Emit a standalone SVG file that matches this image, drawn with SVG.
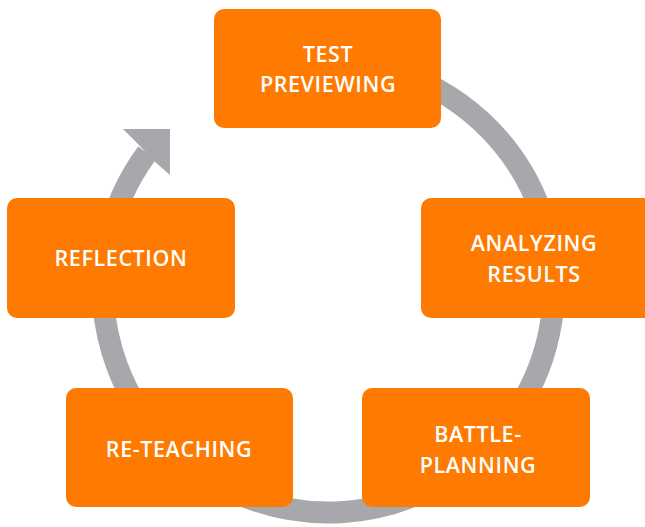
<svg xmlns="http://www.w3.org/2000/svg" width="645" height="527" viewBox="0 0 645 527">
  <style>
    .box { fill: #FF7A00; }
    .lbl { fill: #FFFFFF; font-family: "Open Sans", "Noto Sans", "Liberation Sans", sans-serif; font-size: 21.5px; font-weight: 600; letter-spacing: 0.6px; text-anchor: middle; }
    .ring { fill: none; stroke: #A7A8AB; stroke-width: 22; }
    .head { fill: #A7A8AB; }
  </style>
  <rect width="645" height="527" fill="#FFFFFF"/>
  <g id="connectors">
    <path class="ring" d="M 289 65 A 225.5 225.5 0 1 1 147 153"/>
    <polygon class="head" points="123,129 170,129 170,175 154,161 137,143"/>
  </g>
  <g id="node-test-previewing">
    <rect class="box" x="214" y="9" width="227" height="119" rx="10"/>
    <text class="lbl" x="328" y="62">TEST</text>
    <text class="lbl" x="328" y="92">PREVIEWING</text>
  </g>
  <g id="node-analyzing-results">
    <rect class="box" x="421" y="198" width="234" height="120" rx="10"/>
    <text class="lbl" x="534" y="251">ANALYZING</text>
    <text class="lbl" x="534" y="282">RESULTS</text>
  </g>
  <g id="node-battle-planning">
    <rect class="box" x="362" y="388" width="228" height="119" rx="10"/>
    <text class="lbl" x="478" y="442">BATTLE-</text>
    <text class="lbl" x="478" y="473">PLANNING</text>
  </g>
  <g id="node-re-teaching">
    <rect class="box" x="66" y="388" width="227" height="119" rx="10"/>
    <text class="lbl" x="179" y="457">RE-TEACHING</text>
  </g>
  <g id="node-reflection">
    <rect class="box" x="7" y="198" width="228" height="120" rx="10"/>
    <text class="lbl" x="121" y="266">REFLECTION</text>
  </g>
</svg>
